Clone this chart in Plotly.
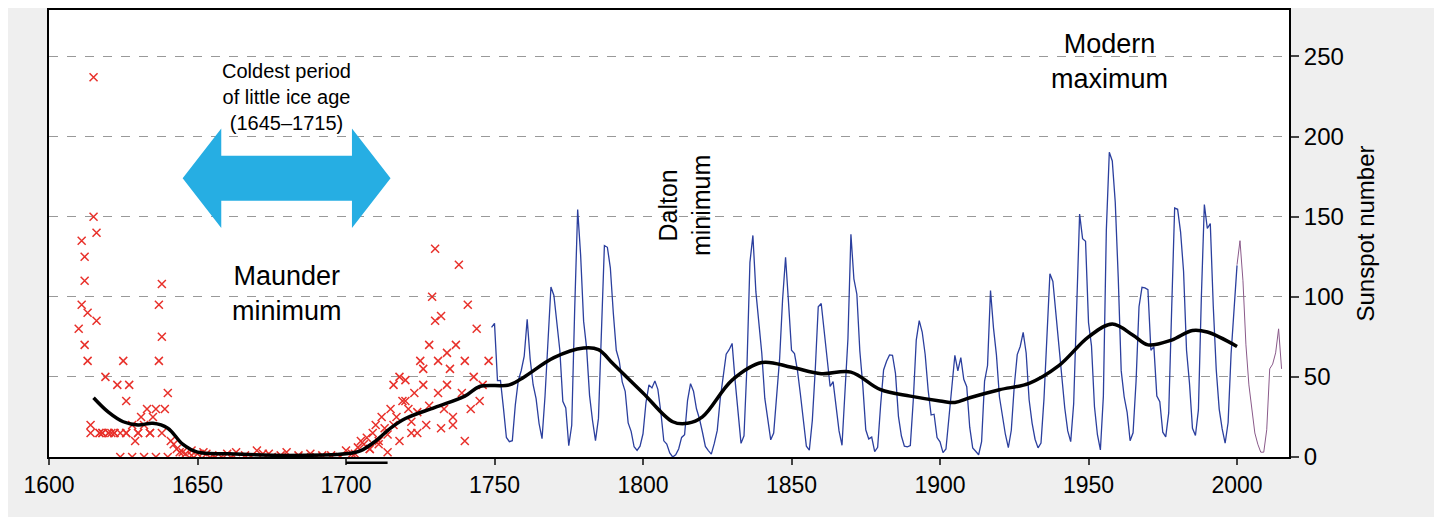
import plotly.graph_objects as go

years_blue = list(range(1749, 2001))
ssn_blue = [80.9,83.4,47.7,47.8,30.7,12.2,9.6,10.2,32.4,47.6,54.0,62.9,85.9,61.2,45.1,36.4,20.9,11.4,37.8,69.8,
106.1,100.8,81.6,66.5,34.8,30.6,7.0,19.8,92.5,154.4,125.9,84.8,68.1,38.5,22.8,10.2,24.1,82.9,132.0,130.9,
118.1,89.9,66.6,60.0,46.9,41.0,21.3,16.0,6.4,4.1,6.8,14.5,34.0,45.0,43.1,47.5,42.2,28.1,10.1,8.1,
2.5,0.0,1.4,5.0,12.2,13.9,35.4,45.8,41.1,30.1,23.9,15.6,6.6,4.0,1.8,8.5,16.6,36.3,49.6,64.2,
67.0,70.9,47.8,27.5,8.5,13.2,56.9,121.5,138.3,103.2,85.7,64.6,36.7,24.2,10.7,15.0,40.1,61.5,98.5,124.7,
96.3,66.6,64.5,54.1,39.0,20.6,6.7,4.3,22.7,54.8,93.8,95.8,77.2,59.1,44.0,47.0,30.5,16.3,7.3,37.6,
74.0,139.0,111.2,101.6,66.2,44.7,17.0,11.3,12.4,3.4,6.0,32.3,54.3,59.7,63.7,63.5,52.2,25.4,13.1,6.8,
6.3,7.1,35.6,73.0,85.1,78.0,64.0,41.8,26.2,26.7,12.1,9.5,2.7,5.0,24.4,42.0,63.5,53.8,62.0,48.5,
43.9,18.6,5.7,3.6,1.4,9.6,47.4,57.1,103.9,80.6,63.6,37.6,26.1,14.2,5.8,16.7,44.3,63.9,69.0,77.8,
64.9,35.7,21.2,11.1,5.7,8.7,36.1,79.7,114.4,109.6,88.8,67.8,47.5,30.6,16.3,9.6,33.2,92.6,151.6,136.3,
134.7,83.9,69.4,31.5,13.9,4.4,38.0,141.7,190.2,184.8,159.0,112.3,53.9,37.6,27.9,10.2,15.1,47.0,93.8,105.9,
105.5,104.5,66.6,68.9,38.0,34.5,15.5,12.6,27.5,92.5,155.4,154.6,140.4,115.9,66.6,45.9,17.9,13.4,29.4,100.2,
157.6,142.6,145.7,94.3,54.6,29.9,17.5,8.6,21.5,64.3,93.3,119.6]

years_red = [1610,1611,1611,1612,1612,1612,1613,1613,1614,1614,1615,1615,1616,1616,1617,1618,1619,1620,1621,1622,
1623,1624,1625,1626,1626,1627,1628,1629,1630,1631,1632,1633,1634,1635,1636,1637,1637,1638,1638,1639,1640,1641,
1642,1643,1644,1646,1648,1650,1652,1655,1658,1660,1663,1666,1670,1672,1675,1680,1684,1688,1690,1695,1700,1702,
1704,1705,1706,1707,1708,1709,1710,1711,1712,1713,1714,1715,1716,1717,1718,1719,1720,1721,1722,1723,1724,1725,
1726,1727,1728,1729,1730,1730,1731,1731,1732,1733,1734,1735,1736,1737,1738,1739,1740,1741,1742,1743,1744,1746,1748,
1617,1618,1620,1622,1624,1626,1628,1630,1632,1634,1636,1638,1640,1645,1648,1653,1656,1662,1668,1674,1678,1686,1692,1698,
1703,1708,1711,1714,1716,1718,1720,1722,1724,1726,1728,1732,1734,1736,1740,1745]
ssn_red = [80,135,95,125,70,110,90,60,20,15,237,150,140,85,15,15,50,15,15,15,
45,15,60,35,15,45,20,10,15,25,20,30,15,25,30,95,60,108,75,30,40,10,
8,5,3,2,4,2,3,1,0,2,3,1,4,2,0,3,1,2,0,1,4,2,
6,10,8,12,5,15,20,10,25,18,14,30,45,25,50,35,48,30,22,40,15,60,
55,20,70,100,85,130,60,40,88,30,45,55,25,70,120,40,60,95,30,50,80,45,60,
15,15,15,15,0,15,0,15,0,15,0,15,0,3,1,2,0,1,0,2,1,0,1,0,
2,5,8,3,20,10,35,15,28,45,32,18,65,20,10,35]

years_black = [1615,1620,1625,1630,1635,1640,1645,1650,1660,1680,1700,1705,1710,1715,1720,1730,1740,1745,1755,1760,
1770,1780,1785,1790,1800,1810,1815,1820,1830,1840,1850,1860,1870,1880,1890,1900,1905,1910,1920,1930,
1940,1950,1958,1965,1970,1978,1985,1990,2000]
ssn_black = [37,28,22,20,21,18,8,3,2,1,2,4,10,18,24,31,38,44,45,50,
62,68,67,58,40,22,21,25,48,59,56,52,53,42,38,35,34,37,42,46,
57,75,83,76,70,73,79,78,69]

years_purple = list(range(2000, 2016))
ssn_purple = [120,135,110,70,45,30,15,8,3,3,17,55,58,65,80,55]

x_ticks = [1600,1650,1700,1750,1800,1850,1900,1950,2000]
y_ticks = [0,50,100,150,200,250]

fig = go.Figure()
fig.add_trace(go.Scatter(x=years_red, y=ssn_red, mode="markers",
    marker=dict(symbol="x-thin", size=8, line=dict(color="#e8302a", width=1.5)), showlegend=False))
fig.add_trace(go.Scatter(x=years_blue, y=ssn_blue, mode="lines",
    line=dict(color="#2b3f9e", width=1.3), showlegend=False))
fig.add_trace(go.Scatter(x=years_purple, y=ssn_purple, mode="lines",
    line=dict(color="#8a5a8a", width=1), showlegend=False))
fig.add_trace(go.Scatter(x=years_black, y=ssn_black, mode="lines",
    line=dict(color="black", width=3.5, shape="spline", smoothing=1.0), showlegend=False))

fig.add_shape(type="path", xref="x", yref="y",
    path="M 1645 174 L 1658 205 L 1658 188 L 1702 188 L 1702 205 L 1715 174 L 1702 143 L 1702 160 L 1658 160 L 1658 143 Z",
    fillcolor="#26aee3", line=dict(width=0))
fig.add_shape(type="line", xref="x", yref="paper", x0=1700, x1=1714, y0=-0.013, y1=-0.013,
    line=dict(color="black", width=2.5))

fig.add_annotation(x=1680, y=249, text="Coldest period<br>of little ice age<br>(1645–1715)", showarrow=False,
    font=dict(size=20, color="black"), yanchor="top")
fig.add_annotation(x=1680, y=102, text="Maunder<br>minimum", showarrow=False, font=dict(size=27, color="black"))
fig.add_annotation(x=1814, y=157, text="Dalton<br>minimum", showarrow=False, textangle=-90,
    font=dict(size=25, color="black"))
fig.add_annotation(x=1957, y=247, text="Modern<br>maximum", showarrow=False, font=dict(size=27, color="black"))

fig.update_layout(
    width=1442, height=517, paper_bgcolor="#efefef", plot_bgcolor="white",
    margin=dict(l=41, r=161, t=0, b=68),
    font=dict(family="Liberation Sans, Arial", color="black"),
    xaxis=dict(range=[1600, 2017.5], tickvals=x_ticks, ticks="outside", ticklen=6, tickwidth=1.5,
        tickfont=dict(size=23), showgrid=False, zeroline=False,
        showline=True, linecolor="black", linewidth=2, mirror=True),
    yaxis=dict(range=[0, 279], tickvals=y_ticks, side="right", ticks="outside", ticklen=8, tickwidth=1.5,
        tickfont=dict(size=24), showgrid=True, gridcolor="#999", griddash="dash", gridwidth=1.2,
        zeroline=False, showline=True, linecolor="black", linewidth=2, mirror=True,
        title=dict(text="Sunspot number", font=dict(size=24), standoff=14)),
)
fig.write_html("out.html")
